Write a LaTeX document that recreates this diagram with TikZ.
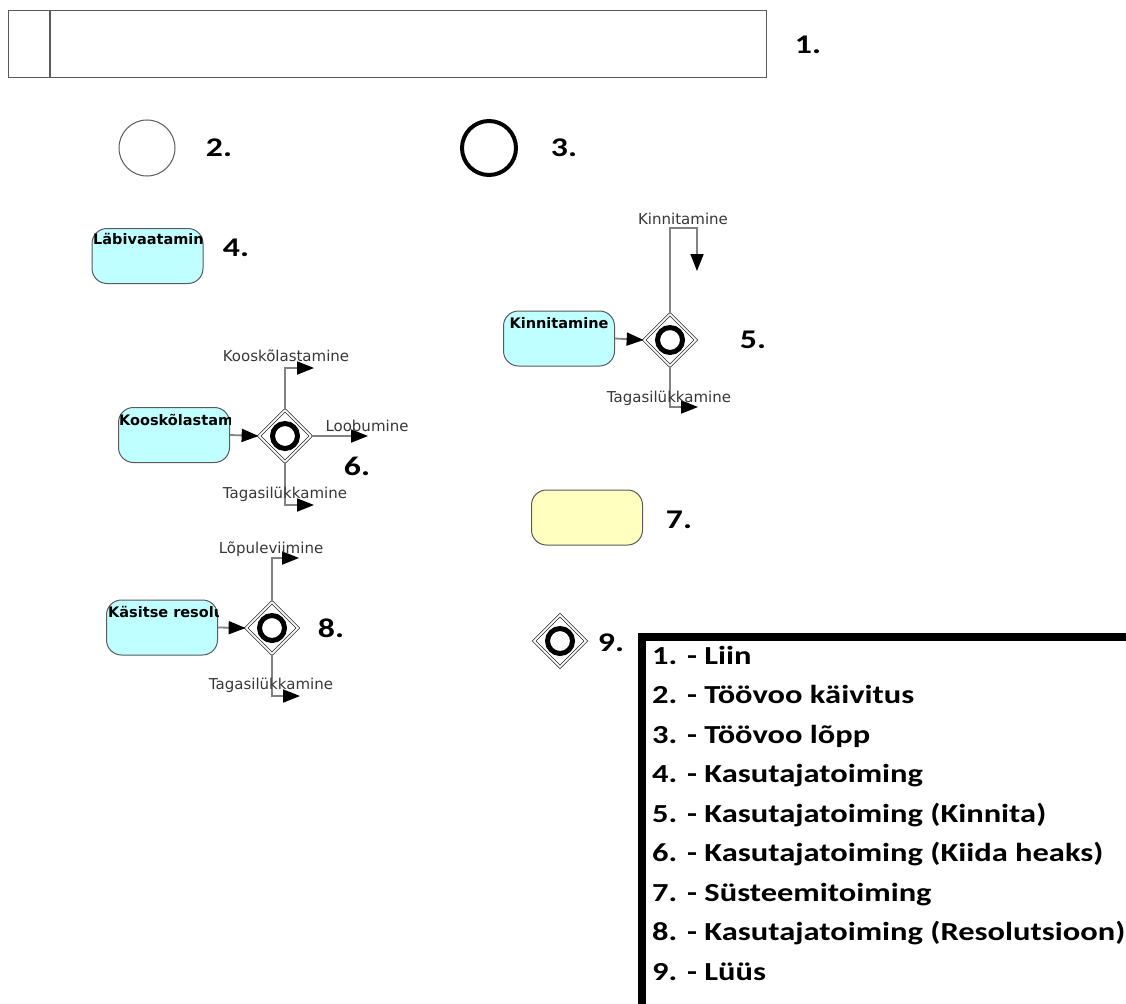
\documentclass[tikz,border=0pt]{standalone}
\usepackage{fontspec}
\usepackage{graphicx}
\setmainfont{Carlito}
\newfontfamily\labelfont{DejaVu Sans}
\usetikzlibrary{shapes.geometric,arrows.meta}

\definecolor{taskfill}{RGB}{192,255,255}
\definecolor{sysfill}{RGB}{255,255,192}
\definecolor{edgegray}{RGB}{90,90,90}
\definecolor{flowgray}{RGB}{130,130,130}
\definecolor{labelgray}{RGB}{55,55,55}

% wide glyphs for numbers and legend
\newcommand\widen[1]{\scalebox{1.25}[1]{#1}}

\begin{document}
\begin{tikzpicture}[x=1pt,y=-1pt,
  taskbox/.style={draw=edgegray, line width=1pt, rounded corners=15pt,
    minimum width=111pt, minimum height=55pt, inner sep=0pt, fill=taskfill},
  sysbox/.style={taskbox, fill=sysfill},
  tasklabel/.style={font=\labelfont\bfseries\fontsize{14.5}{14.5}\selectfont, inner sep=0pt},
  gate/.style={diamond, draw=black!85, double=white, double distance=1.8pt, line width=0.7pt,
    minimum width=52pt, minimum height=52pt, inner sep=0pt},
  gatemark/.style={circle, draw=black, line width=5pt, minimum size=25pt, inner sep=0pt},
  flow/.style={draw=flowgray, line width=1.8pt, -{Triangle[length=17pt,width=13pt,color=black]}},
  flowlabel/.style={font=\labelfont\fontsize{15}{15}\selectfont, text=labelgray, inner sep=0pt},
  numlabel/.style={font=\bfseries\fontsize{27}{27}\selectfont, inner sep=0pt},
  legendline/.style={font=\bfseries\fontsize{26}{26}\selectfont, inner sep=0pt, anchor=base west}]

\path[use as bounding box, fill=white] (0,0) rectangle (1126,1003);

% 1. lane
\node[draw=edgegray, line width=1.2pt, minimum width=758pt, minimum height=67pt,
      inner sep=0pt, anchor=north west] (lane) at (8,10) {};
\draw[edgegray, line width=1.2pt] ([xshift=42pt]lane.north west) -- ([xshift=42pt]lane.south west);
\node[numlabel] (n1) at (808,45) {\widen{1.}};

% 2. start and 3. end events
\node[circle, draw=edgegray, line width=1pt, minimum size=56pt, inner sep=0pt] (start) at (147,148) {};
\node[numlabel] (n2) at (219,148) {\widen{2.}};
\node[circle, draw=black, line width=4pt, minimum size=54pt, inner sep=0pt] (finish) at (489,148) {};
\node[numlabel] (n3) at (564,148) {\widen{3.}};

% 4. user task
\node[taskbox] (t4) at (147.5,256) {};
\begin{scope}
  \clip (t4.south west) rectangle (t4.north east);
  \node[tasklabel, anchor=base west] (t4l) at (93,244) {Läbivaatamine};
\end{scope}
\node[numlabel] (n4) at (236,248) {\widen{4.}};

% 5. user task with approval gateway
\node[taskbox] (t5) at (559,338.5) {};
\node[tasklabel, anchor=base] (t5l) at (559,328) {Kinnitamine};
\node[gate] (g5) at (670,340) {};
\node[gatemark] (m5) at (g5.center) {};
\coordinate (c5) at (697,228);
\coordinate (k5a) at (697,271);
\coordinate (k5b) at (698,407);
\draw[flow] (t5.east) -- (g5.west);
\draw[flow] (g5.north) |- (c5) -- (k5a);
\draw[flow] (g5.south) |- (k5b);
\node[flowlabel] (l5a) at (683,219) {Kinnitamine};
\node[flowlabel] (l5b) at (669,398) {Tagasilükkamine};
\node[numlabel] (n5) at (753,340) {\widen{5.}};

% 6. user task with agreement gateway
\node[taskbox] (t6) at (174,435) {};
\begin{scope}
  \clip (t6.south west) rectangle (t6.north east);
  \node[tasklabel, anchor=base west] (t6l) at (119,425) {Kooskõlastamine};
\end{scope}
\node[gate] (g6) at (285,436) {};
\node[gatemark] (m6) at (g6.center) {};
\coordinate (k6a) at (314,368);
\coordinate (k6b) at (368,436);
\coordinate (k6c) at (314,505);
\draw[flow] (t6.east) -- (g6.west);
\draw[flow] (g6.north) |- (k6a);
\draw[flow] (g6.east) -- (k6b);
\draw[flow] (g6.south) |- (k6c);
\node[flowlabel] (l6a) at (286,356) {Kooskõlastamine};
\node[flowlabel] (l6b) at (367,426) {Loobumine};
\node[flowlabel] (l6c) at (285,494) {Tagasilükkamine};
\node[numlabel] (n6) at (357,466) {\widen{6.}};

% 7. system task
\node[sysbox] (t7) at (587,517.5) {};
\node[numlabel] (n7) at (679,520) {\widen{7.}};

% 8. user task with resolution gateway
\node[taskbox] (t8) at (162,627.5) {};
\begin{scope}
  \clip (t8.south west) rectangle (t8.north east);
  \node[tasklabel, anchor=base west] (t8l) at (108,617) {Käsitse resolutsioon};
\end{scope}
\node[gate] (g8) at (272,628) {};
\node[gatemark] (m8) at (g8.center) {};
\coordinate (k8a) at (299,558);
\coordinate (k8b) at (300,696);
\draw[flow] (t8.east) -- (g8.west);
\draw[flow] (g8.north) |- (k8a);
\draw[flow] (g8.south) |- (k8b);
\node[flowlabel] (l8a) at (271,549) {Lõpuleviimine};
\node[flowlabel] (l8b) at (271,685) {Tagasilükkamine};
\node[numlabel] (n8) at (331,628) {\widen{8.}};

% 9. gateway
\node[gate] (g9) at (560,641) {};
\node[gatemark] (m9) at (g9.center) {};
\node[numlabel] (n9) at (611,643) {\widen{9.}};

% legend
\draw[line width=8pt] (642,637) rectangle (1300,1200);
\node[legendline] (lg1) at (652,664) {\widen{1. - Liin}};
\node[legendline] (lg2) at (652,703.5) {\widen{2. - Töövoo käivitus}};
\node[legendline] (lg3) at (652,743) {\widen{3. - Töövoo lõpp}};
\node[legendline] (lg4) at (652,782.5) {\widen{4. - Kasutajatoiming}};
\node[legendline] (lg5) at (652,822) {\widen{5. - Kasutajatoiming (Kinnita)}};
\node[legendline] (lg6) at (652,861.5) {\widen{6. - Kasutajatoiming (Kiida heaks)}};
\node[legendline] (lg7) at (652,901) {\widen{7. - Süsteemitoiming}};
\node[legendline] (lg8) at (652,940.5) {\widen{8. - Kasutajatoiming (Resolutsioon)}};
\node[legendline] (lg9) at (652,980) {\widen{9. - Lüüs}};
\end{tikzpicture}
\end{document}
